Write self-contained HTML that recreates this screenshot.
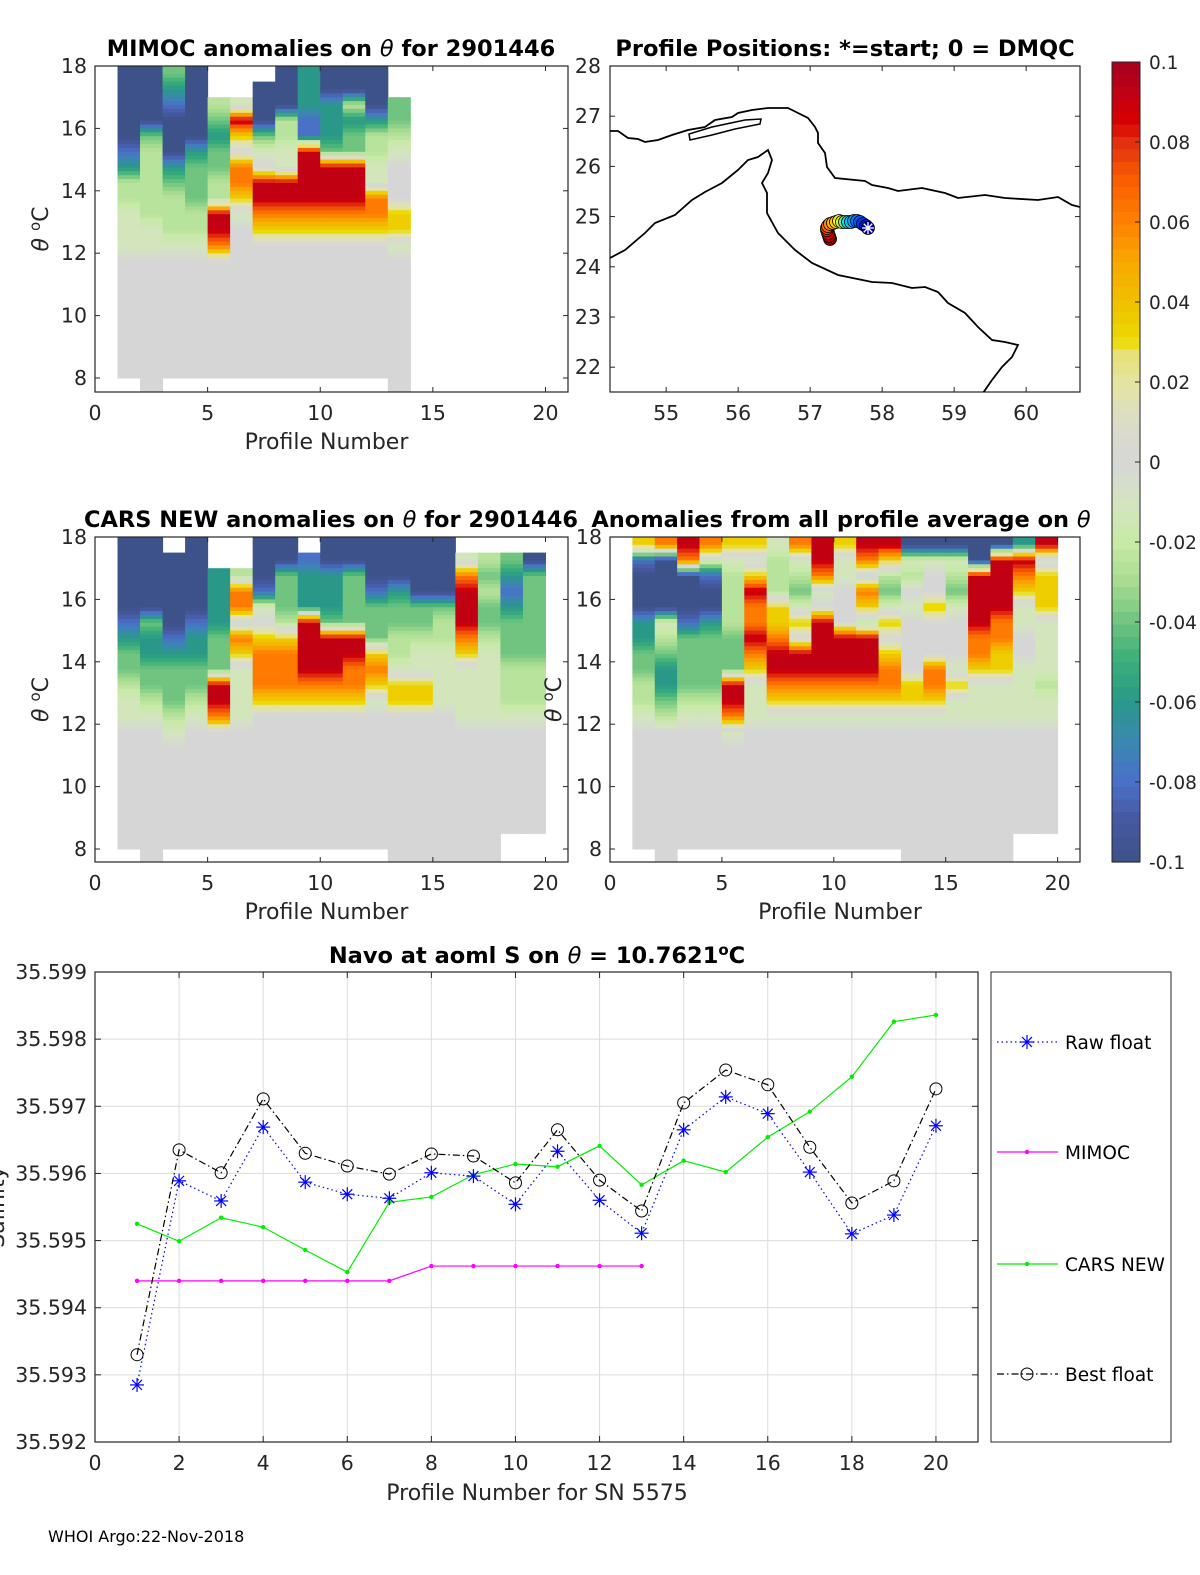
<!DOCTYPE html>
<html><head><meta charset="utf-8"><style>
html,body{margin:0;padding:0;background:#fff;}
svg{display:block;font-family:"DejaVu Sans","Liberation Sans",sans-serif;}
.tk{font-size:20.5px;fill:#262626;}
.ttl{font-size:22.5px;font-weight:bold;fill:#000;}
.lab{font-size:22px;fill:#262626;}
</style></head><body>
<svg id="fig" width="1200" height="1575" viewBox="0 0 1200 1575" xmlns="http://www.w3.org/2000/svg">
<defs>
<clipPath id="c1"><rect x="95" y="66" width="473" height="326"/></clipPath>
<clipPath id="c3"><rect x="95" y="537" width="473" height="325"/></clipPath>
<clipPath id="c4"><rect x="610" y="537" width="470" height="325"/></clipPath>
<clipPath id="cm"><rect x="610" y="66" width="470" height="326"/></clipPath>
</defs>
<text class="ttl" x="331" y="56" text-anchor="middle">MIMOC anomalies on <tspan font-style="italic" font-weight="normal">θ</tspan>  for 2901446</text>
<text class="ttl" x="845" y="56" text-anchor="middle">Profile Positions: *=start; 0 = DMQC</text>
<text class="ttl" x="331" y="527" text-anchor="middle">CARS NEW anomalies on <tspan font-style="italic" font-weight="normal">θ</tspan> for 2901446</text>
<text class="ttl" x="841" y="527" text-anchor="middle">Anomalies from all profile average on <tspan font-style="italic" font-weight="normal">θ</tspan></text>
<text class="ttl" x="537" y="963" text-anchor="middle">Navo at aoml S on <tspan font-style="italic" font-weight="normal">θ</tspan> = 10.7621<tspan dy="-8" font-size="15">o</tspan><tspan dy="8">C</tspan></text>
<text class="lab" x="48" y="1542" style="font-size:16px;fill:#000">WHOI Argo:22-Nov-2018</text>
<g id="layer"></g>
</svg>
<script>
// ---------- data ----------
const codeVals = {b:-0.1,u:-0.08,t:-0.06,g:-0.04,l:-0.025,p:-0.012,'0':0,y:0.035,o:0.062,r:0.092};
const thetaTop = 18, thetaStep = 0.5;
const mimocCols = ["bbbbbutllppp00000000.","bbbbglllllpp000000000","gtubbbtglllp00000000.","bbbbbtgggllp00000000.","..lgtggllrro00000000.","..pry0ooyp0000000000.",".bbbgp0rroy000000000.","bbbllpprroy000000000.","tttuurrrroy000000000.","bbtttgrrroy000000000.","bbltggrrroy000000000.","bbbtllppooy000000000.","..gglp000yyp000000000"];
const carsCols = ["bbbbbutgglpp00000000.","bbbbbgttgglp000000000",".bbbbbutggglp0000000.","bbbbbuttgglp00000000.","..ttttgggrro00000000.","..loopoypppp00000000.","bbbup0yoooy000000000.","bbggglyoooy000000000.",".utttrrrroy000000000.","bbtttgrrroy000000000.","bbggggrrooy000000000.","bbbugggyoyp000000000.","bbbtggllpyy0000000000","bbbbgglppyy0000000000","bbbbgllpppp0000000000",".porrroypppp000000000",".lglgglppppp000000000",".gtutggglllp0000000..",".bgggggglllp0000000.."];
const avgCols = ["yubbbttggllp00000000.","obbbbplgttgl000000000","robbbugggglp00000000.","opubbtgggglp00000000.","ypllllgggrrop0000000.","ypyrooroyppp00000000.","plllyyorroyp00000000.","oplgpy0rroyp00000000.","rrop0rrrroyp00000000.","ypp000rrroyp00000000.","ropoylrrroyp00000000.","rylgpy0yooyp00000000.","bpl0p0000yyp000000000","bp00y000ooyp000000000","bplgp000pypp000000000","bbrrrrooyppp000000000","brrrrooyyppp000000000","troypp00pppp0000000..","rpyyypppplpp0000000.."];
const profLon = [57.803,57.776,57.734,57.692,57.651,57.609,57.567,57.526,57.484,57.442,57.401,57.359,57.317,57.276,57.248,57.234,57.234,57.248,57.262,57.276];
const profLat = [24.773,24.813,24.853,24.892,24.912,24.912,24.892,24.892,24.892,24.892,24.912,24.892,24.873,24.853,24.813,24.773,24.733,24.673,24.614,24.554];
const profiles = [1,2,3,4,5,6,7,8,9,10,11,12,13,14,15,16,17,18,19,20];
const rawFloat = [35.59285,35.59589,35.59559,35.59669,35.59587,35.59569,35.59563,35.59601,35.59596,35.59554,35.59633,35.59560,35.59511,35.59665,35.59714,35.59689,35.59602,35.59510,35.59538,35.59671];
const bestFloat = [35.59330,35.59635,35.59601,35.59711,35.59630,35.59611,35.59599,35.59629,35.59626,35.59586,35.59665,35.59590,35.59544,35.59705,35.59754,35.59732,35.59639,35.59556,35.59589,35.59726];
const carsNew = [35.59525,35.59499,35.59534,35.59520,35.59486,35.59453,35.59557,35.59565,35.59598,35.59614,35.59610,35.59641,35.59583,35.59619,35.59602,35.59654,35.59692,35.59744,35.59826,35.59836];
const mimocProf = [1,2,3,4,5,6,7,8,9,10,11,12,13];
const mimocSal = [35.59440,35.59440,35.59440,35.59440,35.59440,35.59440,35.59440,35.59462,35.59462,35.59462,35.59462,35.59462,35.59462];
const salTicks = [35.592,35.593,35.594,35.595,35.596,35.597,35.598,35.599];
const salXTicks = [0,2,4,6,8,10,12,14,16,18,20];
const cbTicks = [0.1,0.08,0.06,0.04,0.02,0,-0.02,-0.04,-0.06,-0.08,-0.1];
const cbLabels = ["0.1","0.08","0.06","0.04","0.02","0","-0.02","-0.04","-0.06","-0.08","-0.1"];

// ---------- helpers ----------
const NS = "http://www.w3.org/2000/svg";
const layer = document.getElementById('layer');
function mk(tag, attrs, parent){ const e=document.createElementNS(NS,tag); for(const k in attrs) e.setAttribute(k,attrs[k]); (parent||layer).appendChild(e); return e; }
const stops = [[-0.1,[61,82,136]],[-0.09,[70,88,160]],[-0.08,[74,112,200]],[-0.07,[58,136,176]],[-0.06,[42,152,136]],[-0.05,[58,174,120]],[-0.04,[112,196,128]],[-0.03,[168,220,144]],[-0.02,[200,234,168]],[-0.01,[212,228,192]],[0,[214,214,214]],[0.01,[220,220,200]],[0.02,[228,228,160]],[0.028,[232,224,112]],[0.03,[236,220,0]],[0.04,[240,192,0]],[0.05,[248,168,0]],[0.06,[255,128,0]],[0.07,[250,96,0]],[0.08,[224,48,16]],[0.085,[216,0,0]],[0.09,[200,0,16]],[0.1,[165,0,33]]];
function cmap(v){ v=Math.max(-0.1,Math.min(0.1,v)); for(let i=0;i<stops.length-1;i++){ const a=stops[i],b=stops[i+1]; if(v<=b[0]){ const f=(v-a[0])/(b[0]-a[0]); const c=a[1].map((x,j)=>Math.round(x+(b[1][j]-x)*f)); return `rgb(${c[0]},${c[1]},${c[2]})`; } } return 'rgb(165,0,33)'; }

function axesBox(x0,y0,x1,y1,name){ const r=mk('rect',{x:x0,y:y0,width:x1-x0,height:y1-y0,fill:'none',stroke:'#262626','stroke-width':1.2});   }

function heatPanel(cols, firstProf, box, clip, name){
  const sx = v => box.x0 + (v-0)*(box.x1-box.x0)/21;
  const sy = th => box.yT + (thetaTop-th)*box.ppd;
  const g = mk('g',{'clip-path':`url(#${clip})`});
  
  
  const SUB=4;
  cols.forEach((col,i)=>{
    for(let k=0;k<col.length;k++){
      const ch=col[k]; if(ch==='.') continue;
      const v=codeVals[ch];
      const vUp = (k>0 && col[k-1]!=='.') ? codeVals[col[k-1]] : v;
      const vDn = (k<col.length-1 && col[k+1]!=='.') ? codeVals[col[k+1]] : v;
      const thHi = thetaTop - k*thetaStep;
      for(let s=0;s<SUB;s++){
        const f=(s+0.5)/SUB; // 0 top ... 1 bottom
        let vv = f<0.5 ? v+(vUp-v)*(0.5-f) : v+(vDn-v)*(f-0.5);
        const a=thHi - s*thetaStep/SUB, b=a-thetaStep/SUB;
        const c = mk('rect',{x:sx(firstProf+i),y:sy(a),width:sx(firstProf+i+1)-sx(firstProf+i)+0.5,height:sy(b)-sy(a)+0.5,fill:cmap(vv)},g);
        
        
      }
    }
  });
  axesBox(box.x0,box.yT,box.x1,box.yB,name+'-axes');
  for(let th=8;th<=18;th+=2){ const y=sy(th);
    mk('line',{x1:box.x0,x2:box.x0+5,y1:y,y2:y,stroke:'#262626'}); mk('line',{x1:box.x1,x2:box.x1-5,y1:y,y2:y,stroke:'#262626'});
    const t=mk('text',{x:box.x0-8,y:y+7,'text-anchor':'end',class:'tk'}); t.textContent=th;
      }
  for(let p=0;p<=20;p+=5){ const x=sx(p);
    mk('line',{x1:x,x2:x,y1:box.yB,y2:box.yB-5,stroke:'#262626'}); mk('line',{x1:x,x2:x,y1:box.yT,y2:box.yT+5,stroke:'#262626'});
    const t=mk('text',{x:x,y:box.yB+28,'text-anchor':'middle',class:'tk'}); t.textContent=p;
      }
  const xl=mk('text',{x:(box.x0+box.x1)/2-5,y:box.yB+57,'text-anchor':'middle',class:'lab'}); xl.textContent='Profile Number';
   
  const yl=mk('text',{x:0,y:0,transform:`translate(${box.ylx},${(box.yT+box.yB)/2}) rotate(-90)`,'text-anchor':'middle',class:'lab'});
  yl.innerHTML='<tspan font-style="italic">θ</tspan> <tspan dy="-8" font-size="15">o</tspan><tspan dy="8">C</tspan>';
   
}
heatPanel(mimocCols,1,{x0:95,x1:568,yT:66,yB:392,ppd:31.2,ylx:48},'c1','mimoc');
heatPanel(carsCols,1,{x0:95,x1:568,yT:537,yB:862,ppd:31.2,ylx:48},'c3','cars');
heatPanel(avgCols,1,{x0:610,x1:1080,yT:537,yB:862,ppd:31.2,ylx:561},'c4','avg');

// ---------- map ----------
(function(){
  const lon0=54.22, lat0=28, ppx=72, ppy=50.2;
  const mx = lon => 610 + (lon-lon0)*ppx;
  const my = lat => 66 + (lat0-lat)*ppy;
  axesBox(610,66,1080,392,'map-axes');
  const coastN="610,131 618,131 628,138 638,139 645,142 658,140 672,135 688,130 705,127 715,120 732,117 738,113 752,110 768,108 788,108 798,113 808,118 815,127 818,133 818,143 825,153 827,167 835,178 865,181 872,185 888,188 898,191 922,188 945,193 958,198 985,195 1005,198 1038,200 1058,197 1072,205 1080,207";
  const coastS="610,258 625,250 645,233 655,223 675,215 692,200 705,192 722,183 738,170 748,160 758,157 768,150 772,160 768,173 762,183 767,193 767,213 778,233 795,250 812,263 838,275 872,282 892,283 912,288 925,287 938,292 948,303 965,313 978,327 992,340 1005,342 1018,345 1012,357 1002,367 992,380 983,393";
  const g=mk('g',{'clip-path':'url(#cm)'});
   
  mk('polyline',{points:coastN,fill:'none',stroke:'#000','stroke-width':1.8},g);
  mk('polyline',{points:coastS,fill:'none',stroke:'#000','stroke-width':1.8},g);
  mk('polygon',{points:"690,140 689,134 712,127 745,120 761,119 760,124 735,129 712,135",fill:'none',stroke:'#000','stroke-width':1.5},g);
  const jet=[[0,[0,0,170]],[0.15,[0,80,255]],[0.35,[0,220,255]],[0.5,[255,255,0]],[0.65,[255,160,0]],[0.8,[255,60,0]],[0.9,[220,0,0]],[1,[140,0,0]]];
  function jc(f){ for(let i=0;i<jet.length-1;i++){ if(f<=jet[i+1][0]){ const a=jet[i],b=jet[i+1],t=(f-a[0])/(b[0]-a[0]); const c=a[1].map((x,j)=>Math.round(x+(b[1][j]-x)*t)); return `rgb(${c})`; } } return 'rgb(140,0,0)'; }
  for(let i=profLon.length-1;i>=0;i--){
    const c=mk('circle',{cx:mx(profLon[i]),cy:my(profLat[i]),r:6.5,fill:jc(i/(profLon.length-1)),stroke:'#000','stroke-width':0.8},g);
     
  }
  const sx0=mx(profLon[0]), sy0=my(profLat[0]);
  for(let a=0;a<4;a++){ const an=a*Math.PI/4; mk('line',{x1:sx0-6*Math.cos(an),y1:sy0-6*Math.sin(an),x2:sx0+6*Math.cos(an),y2:sy0+6*Math.sin(an),stroke:'#fff','stroke-width':1.3},g); }
  for(let la=22;la<=28;la++){ const y=my(la); mk('line',{x1:610,x2:615,y1:y,y2:y,stroke:'#262626'}); mk('line',{x1:1080,x2:1075,y1:y,y2:y,stroke:'#262626'});
    const t=mk('text',{x:601,y:y+7,'text-anchor':'end',class:'tk'}); t.textContent=la;   }
  for(let lo=55;lo<=60;lo++){ const x=mx(lo); mk('line',{x1:x,x2:x,y1:392,y2:387,stroke:'#262626'}); mk('line',{x1:x,x2:x,y1:66,y2:71,stroke:'#262626'});
    const t=mk('text',{x:x,y:420,'text-anchor':'middle',class:'tk'}); t.textContent=lo;   }
})();

// ---------- colorbar ----------
(function(){
  const y0=62,y1=862,x0=1112,x1=1140;
  const cy = v => y0 + (0.1-v)/0.2*(y1-y0);
  const g=mk('g',{});
   
  const n=64;
  for(let i=0;i<n;i++){ const v=0.1-(i+0.5)*0.2/n; mk('rect',{x:x0,y:y0+i*(y1-y0)/n,width:x1-x0,height:(y1-y0)/n+0.6,fill:cmap(v)},g); }
  mk('rect',{x:x0,y:y0,width:x1-x0,height:y1-y0,fill:'none',stroke:'#262626','stroke-width':1},g);
  cbTicks.forEach((v,i)=>{ const y=cy(v); mk('line',{x1:x1-5,x2:x1,y1:y,y2:y,stroke:'#262626'},g);
    const t=mk('text',{x:1149,y:y+7,class:'tk'},g); t.setAttribute('style','font-size:18.5px'); t.textContent=cbLabels[i];
      });
})();

// ---------- salinity chart ----------
(function(){
  const X0=95,X1=978,Y0=972,Y1=1442;
  const sx = v => X0 + v*(X1-X0)/21;
  const sy = v => Y1 - (v-35.592)/0.007*(Y1-Y0);
  const grid=mk('g',{});  
  salXTicks.forEach(v=>mk('line',{x1:sx(v),x2:sx(v),y1:Y0,y2:Y1,stroke:'#dcdcdc','stroke-width':1},grid));
  salTicks.forEach(v=>mk('line',{x1:X0,x2:X1,y1:sy(v),y2:sy(v),stroke:'#dcdcdc','stroke-width':1},grid));
  axesBox(X0,Y0,X1,Y1,'salinity-axes');
  salTicks.forEach(v=>{ const y=sy(v); mk('line',{x1:X0,x2:X0+6,y1:y,y2:y,stroke:'#262626'}); mk('line',{x1:X1,x2:X1-6,y1:y,y2:y,stroke:'#262626'});
    const t=mk('text',{x:87,y:y+7,'text-anchor':'end',class:'tk'}); t.textContent=v.toFixed(3);   });
  salXTicks.forEach(v=>{ const x=sx(v); mk('line',{x1:x,x2:x,y1:Y1,y2:Y1-6,stroke:'#262626'}); mk('line',{x1:x,x2:x,y1:Y0,y2:Y0+6,stroke:'#262626'});
    const t=mk('text',{x:x,y:Y1+28,'text-anchor':'middle',class:'tk'}); t.textContent=v;   });
  const xl=mk('text',{x:537,y:1500,'text-anchor':'middle',class:'lab'}); xl.textContent='Profile Number for SN 5575';
   
  const yl=mk('text',{x:0,y:0,transform:'translate(4,1207) rotate(-90)','text-anchor':'middle',class:'lab'}); yl.textContent='Salinity';
   

  function line(xs,ys,color,dash,name){ const pts=xs.map((x,i)=>sx(x)+','+sy(ys[i])).join(' ');
    const p=mk('polyline',{points:pts,fill:'none',stroke:color,'stroke-width':1.2,'stroke-dasharray':dash});
      }
  function star(x,y,c,g){ for(let a=0;a<4;a++){ const an=a*Math.PI/4; mk('line',{x1:x-7*Math.cos(an),y1:y-7*Math.sin(an),x2:x+7*Math.cos(an),y2:y+7*Math.sin(an),stroke:c,'stroke-width':1.2},g); } }
  line(profiles,carsNew,'#00ee00','none','cars-new-line');
  carsNew.forEach((v,i)=>{ const c=mk('circle',{cx:sx(profiles[i]),cy:sy(v),r:2.2,fill:'#00ee00'});   });
  line(mimocProf,mimocSal,'#ff00ff','none','mimoc-line');
  mimocSal.forEach((v,i)=>{ const c=mk('circle',{cx:sx(mimocProf[i]),cy:sy(v),r:2.2,fill:'#ff00ff'});   });
  line(profiles,rawFloat,'#0000ff','1.5 3','raw-float-line');
  rawFloat.forEach((v,i)=>{ const g=mk('g',{});   star(sx(profiles[i]),sy(v),'#0000ff',g); });
  line(profiles,bestFloat,'#000','7 3 1.5 3','best-float-line');
  bestFloat.forEach((v,i)=>{ const c=mk('circle',{cx:sx(profiles[i]),cy:sy(v),r:6,fill:'none',stroke:'#000','stroke-width':1});   });

  const lg=mk('g',{});  
  mk('rect',{x:991,y:972,width:180,height:470,fill:'#fff',stroke:'#262626','stroke-width':1},lg);
  const ents=[['Raw float',1042,'#0000ff','1.5 3','star'],['MIMOC',1152,'#ff00ff','none','dot'],['CARS NEW',1264,'#00ee00','none','dot'],['Best float',1374,'#000','7 3 1.5 3','circ']];
  ents.forEach(e=>{ const g=mk('g',{},lg);  
    mk('line',{x1:997,x2:1058,y1:e[1],y2:e[1],stroke:e[2],'stroke-width':1.2,'stroke-dasharray':e[3]},g);
    if(e[4]==='star') star(1027,e[1],e[2],g); else if(e[4]==='dot') mk('circle',{cx:1027,cy:e[1],r:2.2,fill:e[2]},g); else mk('circle',{cx:1027,cy:e[1],r:6,fill:'none',stroke:'#000'},g);
    const t=mk('text',{x:1065,y:e[1]+7,class:'tk'},g); t.setAttribute('style','font-size:18.5px;fill:#000'); t.textContent=e[0]; });
})();
</script>
</body></html>
